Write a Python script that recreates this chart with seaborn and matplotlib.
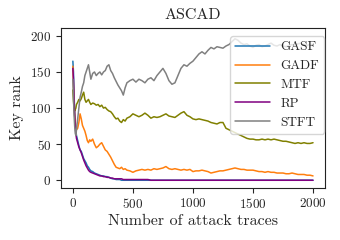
import matplotlib
matplotlib.use("Agg")
import matplotlib.pyplot as plt
import seaborn as sns
import pandas as pd

# attack-trace positions
traces = ([0, 5, 10, 15, 20, 25, 30, 40, 50, 60, 70, 80, 90, 100, 110, 120, 130, 140, 150]
          + list(range(165, 451, 15)) + list(range(475, 2001, 25)))

gasf = ([165, 150, 118, 95, 80, 68, 62, 55, 48, 42, 40, 35, 30, 27, 24, 20, 18, 15, 13,
         12, 10, 9, 8, 7, 6, 6, 5, 5, 4, 3, 2, 2, 1, 1, 1, 0, 0, 0, 0]
        + [0] * 62)

rp = ([155, 140, 110, 90, 75, 65, 58, 52, 46, 42, 38, 33, 28, 24, 20, 17, 14, 12, 11,
       10, 9, 8, 7, 6, 6, 5, 5, 4, 4, 3, 3, 2, 2, 2, 2, 2, 1, 1, 1]
      + [1, 1, 1, 1, 1, 1, 1, 0] + [0] * 54)

gadf = ([158, 130, 105, 90, 80, 74, 70, 72, 80, 92, 85, 76, 72, 68, 62, 55, 52, 56, 54,
         57, 50, 45, 47, 50, 52, 47, 42, 40, 36, 32, 27, 22, 18, 17, 16, 18, 15, 16, 14]
        + [13, 11, 13, 14, 15, 14, 15, 14,
           16, 15, 16, 17, 19, 16, 15, 16,
           15, 14, 15, 14, 15, 12, 13, 13,
           14, 13, 12, 10, 11, 12, 13, 13,
           14, 15, 16, 17, 16, 15, 15, 14,
           14, 14, 13, 12, 12, 11, 12, 11,
           11, 10, 10, 10, 9, 9, 10, 9,
           8, 8, 8, 7, 7, 6])

mtf = ([125, 110, 100, 96, 98, 100, 105, 108, 112, 110, 113, 118, 122, 112, 108, 110, 112, 108, 105,
        107, 106, 104, 105, 102, 104, 100, 101, 98, 96, 95, 92, 88, 85, 86, 82, 80, 84, 82, 86]
       + [88, 92, 90, 88, 90, 93, 90, 86,
          88, 87, 88, 90, 92, 89, 88, 87,
          90, 93, 95, 90, 88, 85, 84, 85,
          84, 83, 82, 80, 79, 78, 80, 80,
          72, 70, 68, 66, 64, 62, 60, 58,
          57, 57, 56, 56, 57, 56, 57, 56,
          57, 56, 55, 54, 54, 53, 52, 51,
          52, 51, 52, 51, 51, 52])

stft = ([140, 115, 90, 75, 65, 62, 70, 85, 100, 115, 122, 130, 135, 145, 150, 155, 160, 150, 140,
         148, 150, 145, 148, 150, 146, 150, 152, 158, 160, 152, 148, 142, 137, 132, 128, 124, 118, 128, 135]
        + [138, 140, 136, 140, 138, 135, 140, 142,
           138, 145, 150, 155, 148, 138, 133, 135,
           145, 155, 160, 158, 162, 165, 170, 175,
           178, 175, 180, 184, 182, 185, 184, 183,
           186, 188, 192, 196, 194, 190, 188, 189,
           186, 184, 187, 188, 185, 186, 188, 190,
           187, 186, 188, 186, 185, 187, 188, 187,
           189, 190, 188, 187, 188, 188])

methods = ["GASF", "GADF", "MTF", "RP", "STFT"]
series = [gasf, gadf, mtf, rp, stft]
colors = ["#1f77b4", "#ff7f0e", "#808000", "#800080", "#808080"]

rows = []
for m, vals in zip(methods, series):
    for t, v in zip(traces, vals):
        rows.append({"traces": t, "rank": v, "method": m})
df = pd.DataFrame(rows)

sns.set_style("ticks")
plt.rcParams["font.family"] = ["cmr10", "DejaVu Serif"]
plt.rcParams["axes.formatter.use_mathtext"] = True
plt.rcParams["mathtext.fontset"] = "cm"

fig = plt.figure(figsize=(3.4, 2.4), dpi=100)
ax = fig.add_axes([0.179, 0.218, 0.777, 0.667])
sns.lineplot(data=df, x="traces", y="rank", hue="method", hue_order=methods,
             palette=dict(zip(methods, colors)), linewidth=1.1, ax=ax, legend=True)

ax.set_xlim(-100, 2100)
ax.set_ylim(-10.3, 211.5)
ax.set_xticks([0, 500, 1000, 1500, 2000])
ax.set_yticks([0, 50, 100, 150, 200])
ax.tick_params(labelsize=9.5, length=3.5, width=0.8)
ax.set_xlabel("Number of attack traces", fontsize=11.5, labelpad=2)
ax.set_ylabel("Key rank", fontsize=11.5)
ax.set_title("ASCAD", fontsize=11.5)
for s in ax.spines.values():
    s.set_linewidth(0.8)
    s.set_color("#222222")

leg = ax.legend(loc="upper right", fontsize=9.5, frameon=True, framealpha=0.8,
                borderaxespad=0.0, bbox_to_anchor=(0.997, 0.948), handlelength=2.6)
leg.get_frame().set_edgecolor("#cccccc")

fig.savefig("out.png", dpi=100)
